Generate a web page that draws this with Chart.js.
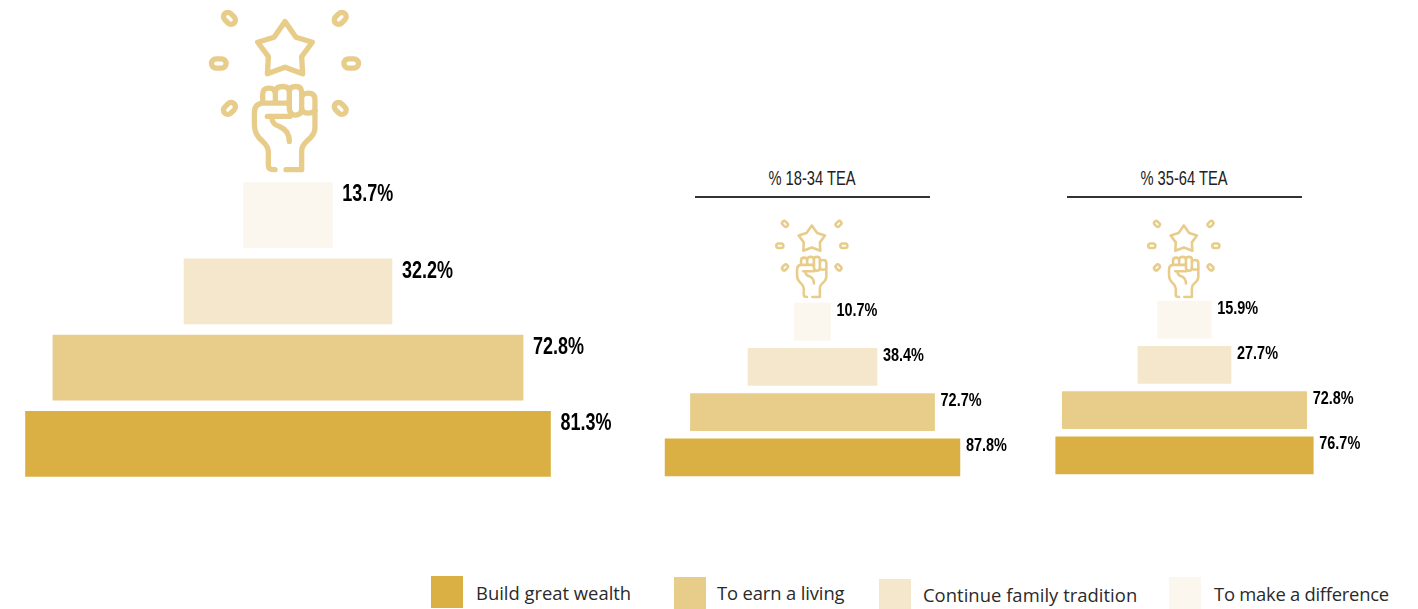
<!DOCTYPE html>
<html>
<head>
<meta charset="utf-8">
<script src="https://cdn.jsdelivr.net/npm/chart.js@4"></script>
<style>
  html, body { margin: 0; padding: 0; background: #fff; }
  #page { position: relative; width: 1418px; height: 609px; overflow: hidden; font-family: "Open Sans", sans-serif; }
  #page canvas, .icon, .head, .rule, .swatch, .legend-text { position: absolute; }
  .head { font: 21px "Liberation Sans", sans-serif; color: #222; text-align: center; width: 240px; top: 166px; transform: scaleX(0.7); }
  .rule { height: 2px; width: 235px; top: 196px; background: #333; }
  .swatch { width: 32px; height: 32px; }
  .legend-text { font-size: 18.4px; color: #2a2a2a; white-space: nowrap; line-height: 24px; }
  .icon * { fill: none; stroke: #E8CC8A; stroke-width: 16; stroke-linecap: round; stroke-linejoin: round; }
</style>
</head>
<body>
<div id="page">
  <svg width="0" height="0" style="position:absolute">
    <symbol id="fist" viewBox="0 0 600 520">
      <rect x="-20" y="-13" width="40" height="26" rx="13" transform="translate(118,55) rotate(45)"/>
      <rect x="-20" y="-13" width="40" height="26" rx="13" transform="translate(451,55) rotate(-45)"/>
      <rect x="-22" y="-14" width="44" height="28" rx="14" transform="translate(86,191)"/>
      <rect x="-22" y="-14" width="44" height="28" rx="14" transform="translate(484,191)"/>
      <rect x="-20" y="-13" width="40" height="26" rx="13" transform="translate(118,326) rotate(-45)"/>
      <rect x="-20" y="-13" width="40" height="26" rx="13" transform="translate(451,326) rotate(45)"/>
      <path d="M285 65 L318 112 L367 127 L335 170 L338 222 L285 202 L232 222 L235 170 L203 127 L252 112 Z"/>
      <path d="M218 305 V283 Q218 265 237 265 Q256 265 256 283 V305"/>
      <path d="M256 275 Q258 260 278 260 Q297 260 298 275 V300"/>
      <path d="M298 273 Q300 260 317 260 Q335 260 335 277 V328 Q335 346 317 346 Q300 346 298 328 V300"/>
      <path d="M335 292 Q338 280 355 280 Q375 280 375 299 V385 Q375 405 350 425 Q335 438 335 455 V510 H288"/>
      <path d="M335 328 Q338 340 356 340 Q368 340 375 332"/>
      <path d="M298 310 H218 Q193 312 193 340 V375 Q193 405 218 425 Q235 440 235 458 V498 Q235 510 255 510"/>
      <path d="M232 350 H300"/>
      <path d="M245 352 Q247 375 268 380 Q298 392 298 425"/>
    </symbol>
  </svg>

  <svg class="icon" style="left:190px;top:0" width="200" height="173"><use href="#fist"/></svg>
  <svg class="icon" style="left:766px;top:215px" width="96.5" height="83.7"><use href="#fist"/></svg>
  <svg class="icon" style="left:1138px;top:215px" width="96.5" height="83.7"><use href="#fist"/></svg>

  <canvas id="allChart" style="left:0;top:177px" width="640" height="305"></canvas>
  <canvas id="youngChart" style="left:652px;top:299px" width="381" height="181"></canvas>
  <canvas id="olderChart" style="left:1024px;top:297px" width="381" height="181"></canvas>

  <div class="head" style="left:692px">% 18-34 TEA</div>
  <div class="rule" style="left:695px"></div>
  <div class="head" style="left:1064px">% 35-64 TEA</div>
  <div class="rule" style="left:1067px"></div>

  <div id="legend"></div>
</div>

<script>
const categories = ['To make a difference', 'Continue family tradition', 'To earn a living', 'Build great wealth'];
const allValues = [13.7, 32.2, 72.8, 81.3];
const youngValues = [10.7, 38.4, 72.7, 87.8];
const olderValues = [15.9, 27.7, 72.8, 76.7];
const barColors = ['#FBF6EE', '#F5E7CC', '#E8CC8A', '#DAB045'];

// labels sit up and to the right of each bar, squeezed to look condensed
const barLabels = {
    id: 'barLabels',
    afterDatasetsDraw(chart, args, opts) {
        const ctx = chart.ctx;
        const values = chart.data.datasets[0].values;
        ctx.save();
        ctx.font = 'bold ' + opts.size + 'px "Liberation Sans", sans-serif';
        ctx.fillStyle = '#000';
        ctx.textBaseline = 'middle';
        chart.getDatasetMeta(0).data.forEach((bar, i) => {
            ctx.fillText(values[i].toFixed(1) + '%', bar.x + opts.dx, bar.y + opts.dy, opts.squeeze);
        });
        ctx.restore();
    }
};

function drawPyramid(id, values, halfRange, rightRoom, thickness, labelOpts) {
    new Chart(document.getElementById(id), {
        type: 'bar',
        data: {
            labels: categories,
            datasets: [{
                values: values,
                data: values.map(v => [-v / 2, v / 2]),
                backgroundColor: barColors,
                barThickness: thickness
            }]
        },
        options: {
            indexAxis: 'y',
            responsive: false,
            animation: false,
            layout: { padding: { right: rightRoom } },
            scales: {
                x: { display: false, min: -halfRange, max: halfRange },
                y: { display: false }
            },
            plugins: {
                legend: { display: false },
                tooltip: { enabled: false },
                barLabels: labelOpts
            }
        },
        plugins: [barLabels]
    });
}

drawPyramid('allChart', allValues, 44.6, 64, 65, { size: 23, dx: 10, dy: -20, squeeze: 51 });
drawPyramid('youngChart', youngValues, 47.8, 60, 37, { size: 18, dx: 6, dy: -11, squeeze: 41 });
drawPyramid('olderChart', olderValues, 47.8, 60, 37, { size: 18, dx: 6, dy: -11, squeeze: 41 });

// legend row, swatch and text spots follow the original's slightly uneven row
const legendOrder = [3, 2, 1, 0];
const legendSpots = [
    { sx: 431, sy: 576, tx: 476, ty: 581, ls: 0 },
    { sx: 674, sy: 577, tx: 717, ty: 581, ls: -0.13 },
    { sx: 879, sy: 579, tx: 923, ty: 583, ls: 0.04 },
    { sx: 1169, sy: 577, tx: 1214, ty: 582, ls: -0.25 }
];
const legend = document.getElementById('legend');
legendOrder.forEach((c, i) => {
    const s = legendSpots[i];
    const box = document.createElement('div');
    box.className = 'swatch';
    box.style.cssText = `left:${s.sx}px;top:${s.sy}px;background:${barColors[c]}`;
    const text = document.createElement('div');
    text.className = 'legend-text';
    text.style.cssText = `left:${s.tx}px;top:${s.ty}px;letter-spacing:${s.ls}px`;
    text.textContent = categories[c];
    legend.append(box, text);
});
</script>
</body>
</html>
